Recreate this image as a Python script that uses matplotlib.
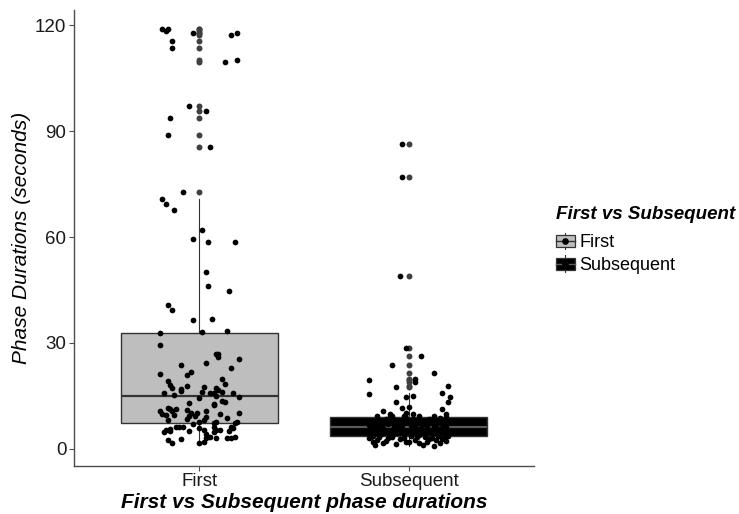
import matplotlib
matplotlib.use("Agg")
import matplotlib.pyplot as plt
import numpy as np
from matplotlib.legend_handler import HandlerBase
from matplotlib.lines import Line2D
from matplotlib.patches import Rectangle

plt.rcParams["font.family"] = ["Liberation Sans", "DejaVu Sans"]

groups = ["First", "Subsequent"]
fills = ["#bebebe", "#000000"]
median_colors = ["#333333", "#5a5a5a"]

# phase durations (s) and the horizontal jitter of each point
first_vals = [
    118.8, 118.3, 118.8, 115.5, 113.4, 117.9, 117.1, 117.9, 109.7, 110.2,
    97.2, 95.6, 93.7, 89.0, 85.4, 72.7, 70.7, 69.4, 67.8, 62.0, 59.5, 58.7, 58.7,
    50.0, 46.0, 44.6, 40.7, 39.3, 36.6, 36.9, 32.7, 33.0, 33.3, 29.4,
    26.9, 27.0, 26.1, 25.6, 23.9, 24.4, 21.9, 21.1, 19.1, 18.1, 17.3, 15.3,
    16.5, 17.0, 17.8, 16.1, 15.8, 17.3, 16.8, 15.8, 14.9, 16.2, 18.3, 15.8, 14.8,
    14.5, 13.0, 12.4, 12.7, 13.6, 13.3, 10.6, 10.0, 9.5, 11.5, 11.2, 10.6, 11.3,
    9.5, 8.2, 11.0, 9.2, 8.4, 10.2, 9.2, 10.2, 10.7, 7.5, 7.2, 8.3, 8.9, 10.0, 8.7,
    7.3, 7.6, 7.3, 7.6, 10.3, 6.3, 4.8, 5.4, 5.7, 5.0, 6.3, 6.3, 6.1, 5.2, 5.9,
    5.3, 4.1, 6.2, 4.8, 5.4, 5.4, 6.0, 5.0, 2.6, 1.6, 2.9, 1.6, 2.0, 3.0, 3.3,
    3.1, 3.2, 3.2, 3.4,
    17.5, 15.9, 19.9, 23.0, 20.8,
]
first_jit = [
    -0.18, -0.16, -0.15, -0.13, -0.13, -0.03, 0.15, 0.18, 0.12, 0.18,
    -0.05, 0.03, -0.14, -0.15, 0.05, -0.08, -0.18, -0.16, -0.12, 0.01, -0.03, 0.04, 0.17,
    0.03, 0.04, 0.14, -0.15, -0.13, -0.03, 0.06, -0.19, 0.01, 0.13, -0.19,
    0.08, 0.09, 0.09, 0.19, -0.09, 0.03, -0.04, -0.19, -0.15, -0.14, -0.13, -0.12,
    -0.09, -0.09, -0.06, 0.01, 0.05, 0.08, 0.09, 0.07, 0.08, 0.11, 0.12, 0.16, 0.19,
    0.00, -0.05, 0.07, 0.07, 0.11, 0.12, -0.19, -0.18, -0.16, -0.15, -0.14, -0.13, -0.11,
    -0.12, -0.15, -0.06, -0.05, -0.06, -0.04, -0.02, -0.01, 0.03, 0.00, -0.03, 0.02, 0.03, 0.10, 0.13,
    0.07, 0.08, 0.17, 0.18, 0.19, 0.15, -0.17, -0.16, -0.14, -0.14, -0.11, -0.10, -0.08, -0.05, 0.00,
    0.02, 0.03, 0.07, 0.07, 0.08, 0.10, 0.16, 0.14, -0.15, -0.13, -0.09, 0.00, 0.02, 0.03, 0.05,
    0.08, 0.13, 0.15, 0.17,
    0.02, -0.17, 0.11, 0.15, -0.06,
]

subsequent_vals = [
    86.4, 77.1, 49.0, 28.6, 26.4, 23.9, 21.4, 19.5, 19.0, 19.8, 17.6, 17.8,
    15.6, 15.8, 14.8, 14.8, 15.1, 13.4, 13.4, 11.7, 12.0, 11.2, 10.6, 9.8, 9.8, 10.1, 9.9,
    9.3, 9.2, 9.4, 9.3, 9.2, 9.1,
    3.8, 3.9, 3.9, 4.0, 4.1, 4.2, 4.3, 4.3, 4.4, 4.5, 4.6, 4.7, 4.8, 4.8, 4.9, 5.0,
    5.1, 5.2, 5.3, 5.3, 5.4, 5.5, 5.6, 5.7, 5.7, 5.8, 5.9, 6.0, 6.0, 6.1, 6.1, 6.2,
    6.3, 6.4, 6.5, 6.5, 6.6, 6.7, 6.8, 6.9, 7.0, 7.0, 7.1, 7.2, 7.3, 7.4, 7.5, 7.5,
    7.6, 7.7, 7.8, 7.9, 8.0, 8.0, 8.1, 8.2, 8.3, 8.4, 8.5, 8.5, 8.6, 8.7, 8.8, 8.9,
    3.0, 2.1, 2.6, 1.8, 3.0, 2.1, 2.4, 1.1, 2.8, 0.9, 3.0, 3.6, 3.4, 3.3, 2.2, 3.5,
    1.5, 2.9, 3.2, 1.9, 3.6, 3.3, 1.6, 3.5, 2.0, 3.1, 2.5, 3.6, 1.7, 2.9, 2.3, 1.2,
]
subsequent_jit = [
    -0.03, -0.03, -0.04, -0.01, 0.06, -0.08, 0.12, -0.19, 0.03, 0.03, -0.06, 0.19,
    -0.19, 0.16, 0.20, -0.01, 0.02, -0.06, 0.19, -0.03, 0.00, 0.16, -0.12, -0.09, 0.18, -0.01, 0.02,
    -0.15, -0.08, -0.02, 0.05, 0.12, 0.18,
    -0.17, 0.05, -0.09, 0.14, -0.02, 0.19, -0.13, 0.08, -0.06, 0.11, -0.19, 0.02, 0.16, -0.11, 0.07, -0.04,
    0.13, -0.15, 0.00, 0.18, -0.08, 0.10, -0.18, 0.04, 0.15, -0.12, 0.06, -0.03, 0.17, -0.07, 0.12, -0.16,
    0.09, -0.14, 0.03, 0.18, -0.05, 0.13, -0.19, 0.01, 0.16, -0.10, 0.07, -0.17, 0.11, -0.02, 0.19, -0.08,
    0.05, -0.13, 0.14, -0.04, 0.08, -0.18, 0.12, -0.06, 0.17, -0.11, 0.02, -0.15, 0.10, -0.01, 0.15, -0.09,
    -0.19, -0.17, -0.15, -0.12, -0.10, -0.01, 0.03, 0.07, 0.10, 0.12, 0.17, 0.19, -0.18, -0.14, -0.11, -0.08,
    -0.06, -0.04, -0.02, 0.00, 0.01, 0.04, 0.05, 0.08, 0.09, 0.11, 0.13, 0.14, 0.15, 0.16, 0.18, -0.16,
]

yticks = [0, 30, 60, 90, 120]

W, H = 739, 514
fig = plt.figure(figsize=(W / 100, H / 100), dpi=100)
ax = fig.add_axes([74 / W, 48.3 / H, 460 / W, 455.7 / H])

bp = ax.boxplot(
    [first_vals, subsequent_vals],
    positions=[1, 2],
    widths=0.75,
    patch_artist=True,
    showcaps=False,
    whis=1.5,
    boxprops=dict(edgecolor="#333333", linewidth=1.0),
    whiskerprops=dict(color="#333333", linewidth=0.8),
    medianprops=dict(linewidth=1.6),
    flierprops=dict(marker="o", markerfacecolor="#404040", markeredgecolor="none", markersize=4.3),
    zorder=2,
)
for patch, c in zip(bp["boxes"], fills):
    patch.set_facecolor(c)
for med, c in zip(bp["medians"], median_colors):
    med.set_color(c)

for i, (vals, jit) in enumerate([(first_vals, first_jit), (subsequent_vals, subsequent_jit)]):
    ax.scatter(np.array(jit) + i + 1, vals, s=17, color="black", linewidths=0, zorder=3)

ax.set_xlim(0.4, 2.6)
ax.set_ylim(-4.75, 124.3)
ax.set_xticks([1, 2], groups)
ax.set_yticks(yticks)
for side in ["top", "right"]:
    ax.spines[side].set_visible(False)
for side in ["left", "bottom"]:
    ax.spines[side].set_color("#4d4d4d")
    ax.spines[side].set_linewidth(1.0)
ax.tick_params(length=3.5, width=0.8, color="#4d4d4d", labelsize=13.5, labelcolor="#1a1a1a", pad=2)

ax.set_ylabel("Phase Durations (seconds)", fontsize=15, style="italic", labelpad=3)
ax.set_xlabel("First vs Subsequent phase durations", fontsize=15, style="italic",
              weight="bold", labelpad=2)


class BoxKey(HandlerBase):
    def __init__(self, fill, mid):
        super().__init__()
        self.fill = fill
        self.mid = mid

    def create_artists(self, legend, orig_handle, xdescent, ydescent, width, height, fontsize, trans):
        x0, y0 = -xdescent, -ydescent
        whisk = Line2D([x0 + width / 2] * 2, [y0, y0 + height], color="#333333", lw=0.8,
                       transform=trans)
        box = Rectangle((x0, y0 + 0.14 * height), width, 0.72 * height, facecolor=self.fill,
                        edgecolor="#333333", lw=0.9, transform=trans)
        med = Line2D([x0, x0 + width], [y0 + height / 2] * 2, color=self.mid, lw=1.0, transform=trans)
        dot = Line2D([x0 + width / 2], [y0 + height / 2], marker="o", ms=3.8, color="black",
                     linestyle="none", transform=trans)
        return [whisk, box, med, dot]


handles = [Rectangle((0, 0), 1, 1) for _ in groups]
leg = fig.legend(
    handles, groups,
    handler_map={h: BoxKey(f, m) for h, f, m in zip(handles, fills, median_colors)},
    title="First vs Subsequent",
    title_fontproperties=dict(size=13.5, weight="bold", style="italic"),
    fontsize=13,
    loc="upper left",
    bbox_to_anchor=(556 / W, 1 - 206 / H),
    frameon=False,
    alignment="left",
    borderpad=0,
    borderaxespad=0,
    handlelength=1.05,
    handleheight=1.05,
    handletextpad=0.25,
    labelspacing=0.22,
)
# a little more room between the title and the first entry
leg._legend_box.sep = 7

fig.savefig("out.png", dpi=100, facecolor="white")
